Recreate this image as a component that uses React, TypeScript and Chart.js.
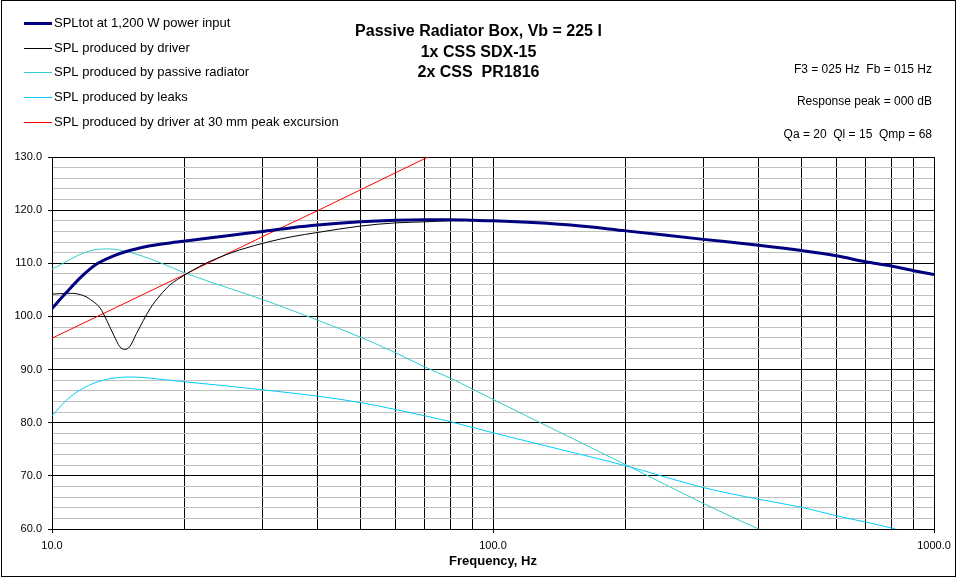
import React, { useEffect, useRef } from "react";
import { Chart, registerables } from "chart.js";

Chart.register(...registerables);

// ---- data ----
const totalFreq = [10, 10.7, 11.6, 12.6, 13.8, 15, 16.7, 19.2, 22, 25, 30, 35, 40, 50, 60, 70, 80, 90, 100, 150, 200, 300, 400, 500, 600, 700, 800, 900, 1000];
const totalSpl = [101.5, 104.2, 107.3, 109.8, 111.4, 112.4, 113.3, 114.0, 114.6, 115.2, 116.0, 116.7, 117.2, 117.8, 118.1, 118.2, 118.2, 118.1, 118.0, 117.2, 116.1, 114.5, 113.4, 112.4, 111.4, 110.3, 109.5, 108.6, 107.9];

const driverFreq = [10, 11, 11.8, 12.4, 12.85, 13.3, 13.8, 14.25, 14.6, 15, 15.55, 16.7, 17.6, 18.5, 20, 21.6, 23.6, 26.6, 31.2, 35, 40, 50, 60, 70, 80, 90, 100, 150, 200, 300, 400, 500, 600, 700, 800, 900, 1000];
const driverSpl = [104.2, 104.35, 103.9, 102.8, 101.6, 99.3, 96.5, 94.3, 93.8, 94.3, 96.8, 101.5, 104.0, 105.9, 107.8, 109.4, 110.9, 112.5, 114.1, 115.0, 115.8, 117.0, 117.6, 117.8, 118.0, 118.05, 118.0, 117.2, 116.1, 114.5, 113.4, 112.4, 111.4, 110.3, 109.5, 108.6, 107.9];

const radiatorFreq = [10, 10.6, 11.4, 12.4, 13.5, 14.8, 16.1, 17.6, 20, 25, 30, 40, 50, 60, 70, 80, 90, 100, 128, 200, 300, 400, 420];
const radiatorSpl = [108.9, 110.0, 111.4, 112.5, 112.7, 112.2, 111.3, 110.1, 108.2, 105.4, 103.2, 99.3, 96.1, 93.2, 90.5, 88.4, 86.3, 84.4, 80.0, 72.1, 64.8, 60.0, 59.2];

const leakFreq = [10, 10.8, 11.6, 12.6, 13.6, 15, 16.1, 18, 20, 25, 30, 40, 50, 60, 70, 80, 90, 100, 150, 200, 300, 400, 500, 600, 700, 800, 850];
const leakSpl = [81.3, 84.3, 86.2, 87.6, 88.3, 88.6, 88.5, 88.1, 87.7, 86.9, 86.2, 85.0, 83.8, 82.5, 81.3, 80.2, 79.1, 78.1, 74.5, 71.9, 67.8, 65.6, 64.1, 62.5, 61.3, 60.2, 59.6];

const excursionFreq = [10, 20, 30, 40, 50, 60, 70, 80];
const excursionSpl = [95.9, 107.9, 115.0, 119.9, 123.8, 127.0, 129.7, 132.0];

const seriesLabels = [
  "SPLtot at 1,200 W power input",
  "SPL produced by driver",
  "SPL produced by passive radiator",
  "SPL produced by leaks",
  "SPL produced by driver at 30 mm peak excursion",
];

const titleLines = ["Passive Radiator Box, Vb = 225 l", "1x CSS SDX-15", "2x CSS  PR1816"];
const infoLines = ["F3 = 025 Hz  Fb = 015 Hz", "Response peak = 000 dB", "Qa = 20  Ql = 15  Qmp = 68"];
const xGridTicks = [10, 20, 30, 40, 50, 60, 70, 80, 90, 100, 200, 300, 400, 500, 600, 700, 800, 900, 1000];
const xLabelTicks = [10, 100, 1000];
const xAxisTitle = "Frequency, Hz";
const yMin = 60;
const yMax = 130;
const yMinorStep = 2;
const yMajorStep = 10;

const FONT = "'Liberation Sans', Arial, sans-serif";

const toPoints = (xs: number[], ys: number[]) => xs.map((x, i) => ({ x, y: ys[i] }));

const decorPlugin = {
  id: "decor",
  afterDraw(chart: any) {
    const ctx = chart.ctx as CanvasRenderingContext2D;
    ctx.save();
    // outer frame
    ctx.strokeStyle = "#000";
    ctx.lineWidth = 1;
    ctx.strokeRect(1.5, 0.5, 954, 576);

    // legend
    chart.data.datasets.forEach((ds: any, i: number) => {
      const y = Math.round(23 + i * 24.7) + 0.5;
      ctx.beginPath();
      ctx.strokeStyle = ds.borderColor;
      ctx.lineWidth = ds.borderWidth;
      ctx.moveTo(24, y);
      ctx.lineTo(52, y);
      ctx.stroke();
      ctx.fillStyle = "#000";
      ctx.font = `13px ${FONT}`;
      ctx.textAlign = "left";
      ctx.textBaseline = "middle";
      ctx.fillText(ds.label, 54, y);
    });

    // title
    ctx.fillStyle = "#000";
    ctx.font = `bold 16px ${FONT}`;
    ctx.textAlign = "center";
    ctx.textBaseline = "alphabetic";
    titleLines.forEach((t, i) => ctx.fillText(t, 478.5, 36 + i * 20.7));

    // info lines
    ctx.font = `12px ${FONT}`;
    ctx.textAlign = "right";
    infoLines.forEach((t, i) => ctx.fillText(t, 932, 72.5 + i * 32.7));
    ctx.restore();
  },
};

export default function App() {
  const canvasRef = useRef<HTMLCanvasElement | null>(null);

  useEffect(() => {
    if (!canvasRef.current) return;
    const colors = ["#000080", "#000000", "#33CCCC", "#00CCFF", "#FF0000"];
    const widths = [3, 1, 1, 1, 1];
    const series = [
      toPoints(totalFreq, totalSpl),
      toPoints(driverFreq, driverSpl),
      toPoints(radiatorFreq, radiatorSpl),
      toPoints(leakFreq, leakSpl),
      toPoints(excursionFreq, excursionSpl),
    ];
    const chart = new Chart(canvasRef.current, {
      type: "line",
      data: {
        datasets: series.map((data, i) => ({
          label: seriesLabels[i],
          data,
          borderColor: colors[i],
          backgroundColor: colors[i],
          borderWidth: widths[i],
          pointRadius: 0,
          pointHoverRadius: 0,
          fill: false,
          tension: i === 4 ? 0 : 0.4,
          cubicInterpolationMode: i === 4 ? "default" : "monotone",
        })),
      },
      options: {
        animation: false,
        responsive: false,
        devicePixelRatio: 1,
        events: [],
        layout: { padding: { left: 0, right: 23, top: 157, bottom: 0 } },
        plugins: {
          legend: { display: false },
          tooltip: { enabled: false },
          title: { display: false },
        },
        scales: {
          x: {
            type: "logarithmic",
            min: 10,
            max: 1000,
            afterBuildTicks: (scale: any) => {
              scale.ticks = xGridTicks.map((value) => ({ value, major: xLabelTicks.includes(value) }));
            },
            afterFit: (scale: any) => {
              scale.height = 48;
            },
            border: { display: true, color: "#000", width: 1 },
            grid: {
              color: "#000",
              lineWidth: 1,
              drawTicks: true,
              tickLength: 4,
              tickColor: (c: any) => (xLabelTicks.includes(c.tick?.value) ? "#000" : "rgba(0,0,0,0)"),
            },
            ticks: {
              autoSkip: false,
              maxRotation: 0,
              minRotation: 0,
              padding: 6,
              color: "#000",
              font: { family: FONT, size: 11 },
              callback: (v: any) => (xLabelTicks.includes(Number(v)) ? Number(v).toFixed(1) : ""),
            },
            title: {
              display: true,
              text: xAxisTitle,
              color: "#000",
              font: { family: FONT, size: 13, weight: "bold" },
              padding: { top: 0, bottom: 8 },
            },
          },
          y: {
            type: "linear",
            min: yMin,
            max: yMax,
            afterFit: (scale: any) => {
              scale.width = 52;
            },
            border: { display: true, color: "#000", width: 1 },
            grid: {
              color: (c: any) => (c.tick && c.tick.value % yMajorStep === 0 ? "#000" : "#C0C0C0"),
              lineWidth: 1,
              drawTicks: true,
              tickLength: 4,
              tickColor: (c: any) => (c.tick && c.tick.value % yMajorStep === 0 ? "#000" : "rgba(0,0,0,0)"),
            },
            ticks: {
              stepSize: yMinorStep,
              autoSkip: false,
              padding: 6,
              color: "#000",
              font: { family: FONT, size: 11 },
              callback: (v: any) => (Number(v) % yMajorStep === 0 ? Number(v).toFixed(1) : ""),
            },
          },
        },
      } as any,
      plugins: [decorPlugin],
    });
    return () => chart.destroy();
  }, []);

  return (
    <div style={{ position: "fixed", left: 0, top: 0, width: 957, height: 577, background: "#fff" }}>
      <canvas ref={canvasRef} width={957} height={577} style={{ display: "block", width: 957, height: 577 }} />
    </div>
  );
}
